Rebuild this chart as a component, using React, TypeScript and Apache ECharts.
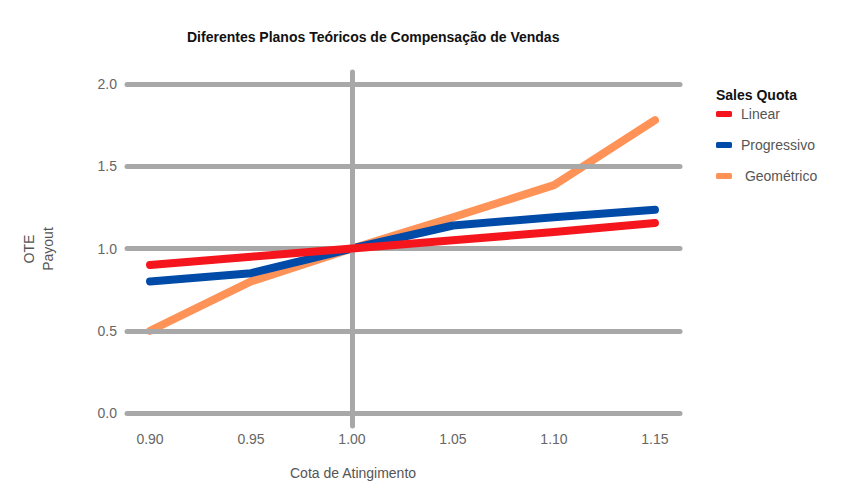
import React, { useEffect, useRef } from "react";
import * as echarts from "echarts";

const quota = [0.9, 0.95, 1.0, 1.05, 1.1, 1.15];
const linear = [0.9, 0.95, 1.0, 1.05, 1.1, 1.155];
const progressivo = [0.8, 0.85, 1.0, 1.14, 1.19, 1.235];
const geometrico = [0.5, 0.8, 1.0, 1.19, 1.385, 1.78];
const yTicks = [0, 0.5, 1.0, 1.5, 2.0];
const xTicks = [0.9, 0.95, 1.0, 1.05, 1.1, 1.15];
const refLine = 1.0;

const FONT = "'Liberation Sans', Arial, sans-serif";

export default function App() {
  const ref = useRef<HTMLDivElement>(null);
  useEffect(() => {
    document.body.style.margin = "0";
    const chart = echarts.init(ref.current!, null, { renderer: "svg" });
    const pairs = (ys: number[]) => quota.map((x, i) => [x, ys[i]]);
    const lineSeries = (name: string, ys: number[], color: string, z: number) => ({
      name,
      type: "line",
      data: pairs(ys),
      showSymbol: false,
      symbol: "none",
      z,
      itemStyle: { color },
      lineStyle: { color, width: 8, cap: "round", join: "round" },
    });
    chart.setOption({
      animation: false,
      textStyle: { fontFamily: FONT },
      title: [
        {
          text: "Diferentes Planos Teóricos de Compensação de Vendas",
          left: 187,
          top: 30,
          padding: 0,
          textStyle: { fontSize: 14, fontWeight: "bold", color: "#111", fontFamily: FONT },
        },
        {
          text: "Sales Quota",
          left: 716,
          top: 88,
          padding: 0,
          textStyle: { fontSize: 14, fontWeight: "bold", color: "#111", fontFamily: FONT },
        },
      ],
      legend: {
        orient: "vertical",
        left: 716,
        top: 107,
        padding: 0,
        itemGap: 17,
        itemWidth: 16,
        itemHeight: 6,
        icon: "roundRect",
        data: ["Linear", "Progressivo", "Geométrico"],
        formatter: (n: string) => (n === "Geométrico" ? " " + n : n),
        textStyle: { fontSize: 14, color: "#555", fontFamily: FONT, padding: [0, 0, 0, 4] },
      },
      graphic: [
        {
          type: "text",
          left: 290,
          top: 466,
          style: { text: "Cota de Atingimento", fontSize: 14, fill: "#555", fontFamily: FONT },
        },
      ],
      grid: { left: 127, right: 162, top: 72, bottom: 69 },
      xAxis: {
        type: "value",
        min: 0.8886,
        max: 1.1624,
        axisLine: { show: false },
        axisTick: { show: false },
        splitLine: { show: false },
        axisLabel: {
          customValues: xTicks,
          formatter: (v: number) => v.toFixed(2),
          color: "#666",
          fontSize: 14,
          margin: 6,
          fontFamily: FONT,
        },
      },
      yAxis: {
        type: "value",
        min: -0.079,
        max: 2.073,
        name: "OTE\nPayout",
        nameLocation: "middle",
        nameRotate: 90,
        nameGap: 70,
        nameTextStyle: { fontSize: 14, color: "#555", lineHeight: 19, fontFamily: FONT },
        axisLine: { show: false },
        axisTick: { show: false },
        splitLine: { show: false },
        axisLabel: {
          customValues: yTicks,
          formatter: (v: number) => v.toFixed(1),
          color: "#666",
          fontSize: 14,
          margin: 10,
          fontFamily: FONT,
        },
      },
      series: [
        {
          name: "grid",
          type: "line",
          data: [],
          z: 1,
          silent: true,
          markLine: {
            silent: true,
            symbol: ["none", "none"],
            label: { show: false },
            animation: false,
            lineStyle: { color: "#a8a8a8", width: 5, type: "solid", cap: "round" },
            data: [...yTicks.map((v) => ({ yAxis: v })), { xAxis: refLine }],
          },
        },
        lineSeries("Geométrico", geometrico, "#FF9257", 3),
        lineSeries("Progressivo", progressivo, "#004AA8", 4),
        lineSeries("Linear", linear, "#F5161D", 5),
      ],
    });
    return () => chart.dispose();
  }, []);
  return <div ref={ref} style={{ width: 842, height: 495 }} />;
}
